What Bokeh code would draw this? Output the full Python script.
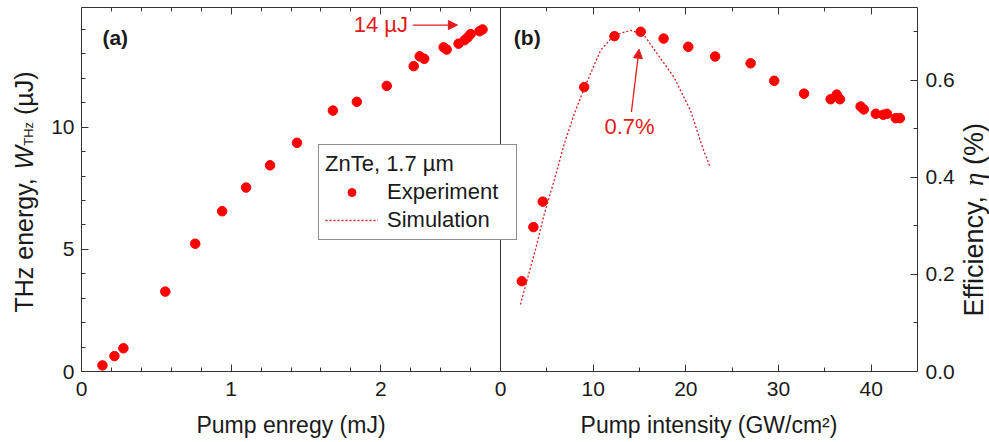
from bokeh.plotting import figure
from bokeh.models import (Range1d, LinearAxis, FixedTicker, Label, Arrow,
                          NormalHead, Legend, LegendItem, PrintfTickFormatter)
from bokeh.embed import file_html
from bokeh.resources import INLINE

# ---------------- data ----------------
# panel (a): THz energy vs pump energy
pump_energy_mJ = [0.14, 0.22, 0.28, 0.56, 0.76, 0.94, 1.10, 1.26, 1.44, 1.68, 1.84,
                  2.04, 2.22, 2.26, 2.29, 2.42, 2.44, 2.52, 2.56, 2.58, 2.60, 2.66, 2.68]
thz_energy_uJ = [0.25, 0.63, 0.95, 3.27, 5.23, 6.56, 7.53, 8.44, 9.36, 10.68, 11.04,
                 11.69, 12.50, 12.90, 12.80, 13.27, 13.18, 13.42, 13.56, 13.67, 13.81, 13.93, 14.00]

# panel (b): efficiency vs pump intensity
intensity_exp = [2.3, 3.55, 4.56, 9.03, 12.3, 15.13, 17.6, 20.26, 23.16, 26.99, 29.54,
                 32.76, 35.63, 36.28, 36.63, 38.86, 39.2, 40.5, 41.3, 41.7, 42.65, 43.1]
efficiency_exp = [0.186, 0.2975, 0.350, 0.586, 0.691, 0.700, 0.686, 0.669, 0.649, 0.635, 0.599,
                  0.5725, 0.561, 0.5705, 0.561, 0.546, 0.540, 0.531, 0.529, 0.531, 0.522, 0.522]
intensity_sim = [2.15, 2.95, 3.84, 4.73, 5.8, 6.88, 7.96, 9.03, 10.8, 12.27, 14.05,
                 15.5, 16.9, 18.7, 20.5, 21.8, 22.58]
efficiency_sim = [0.138, 0.194, 0.256, 0.325, 0.394, 0.469, 0.531, 0.583, 0.662, 0.693, 0.703,
                  0.693, 0.655, 0.607, 0.538, 0.462, 0.423]

# ticks
xa_major = [0, 1, 2]
xa_minor = [0.2, 0.4, 0.6, 0.8, 1.2, 1.4, 1.6, 1.8, 2.2, 2.4, 2.6]
ya_major = [0, 5, 10]
ya_minor = [1, 2, 3, 4, 6, 7, 8, 9, 11, 12, 13, 14]
xb_major = [0, 10, 20, 30, 40]
xb_minor = [5, 15, 25, 35]
yb_major = [0.0, 0.2, 0.4, 0.6]
yb_minor = [0.1, 0.3, 0.5, 0.7]

# axis extents of the two panels
XA_MAX, YA_MAX = 2.8, 14.9
XB_MAX, YB_MAX = 45.0, 0.75

# ---------------- layout / styles ----------------
W, H = 989, 442
PL, DIV, PR, PT, PB = 81, 500, 917, 7, 371     # panel box in pixels
WA, WB, HP = DIV - PL, PR - DIV, PB - PT
FONT = "Liberation Sans"
AX = "#333333"
TXT = "#1a1a1a"
RED = "#ff0000"
ANN = "#e41a1c"
SIM = "#d42020"

# the frame covers the whole canvas; ranges are set so that each panel
# lands on its pixel box
sxa, sxb = XA_MAX / WA, XB_MAX / WB
sya, syb = YA_MAX / HP, YB_MAX / HP
p = figure(width=W, height=H, output_backend="svg", toolbar_location=None,
           x_range=Range1d(-PL * sxa, (W - PL) * sxa),
           y_range=Range1d(-(H - PB) * sya, PB * sya),
           x_axis_type=None, y_axis_type=None,
           min_border_left=0, min_border_right=0, min_border_top=0, min_border_bottom=0)
p.extra_x_ranges = {"b": Range1d(-DIV * sxb, (W - DIV) * sxb)}
p.extra_y_ranges = {"b": Range1d(-(H - PB) * syb, PB * syb)}
p.outline_line_color = None
p.background_fill_color = "white"
p.border_fill_color = "white"


def add_axis(side, major, minor, show_labels=True, fmt=None, **kw):
    ax = LinearAxis(ticker=FixedTicker(ticks=major, minor_ticks=minor), **kw)
    ax.axis_line_color = AX
    ax.major_tick_line_color = AX
    ax.minor_tick_line_color = AX
    ax.major_tick_in, ax.major_tick_out = 7, 0
    ax.minor_tick_in, ax.minor_tick_out = 4, 0
    ax.major_label_text_font = FONT
    ax.major_label_text_font_size = "21px"
    ax.major_label_text_color = TXT
    ax.axis_label_text_font = FONT
    ax.axis_label_text_font_size = "23px"
    ax.axis_label_text_font_style = "normal"
    ax.axis_label_text_color = TXT
    if not show_labels:
        ax.formatter = PrintfTickFormatter(format="")
    elif fmt is not None:
        ax.formatter = fmt
    p.add_layout(ax, side)
    return ax


# bottom axes
add_axis("below", xa_major, xa_minor, bounds=(0, XA_MAX), fixed_location=0,
         major_label_standoff=10, axis_label="Pump enregy (mJ)", axis_label_standoff=13)
add_axis("below", xb_major, xb_minor, bounds=(0, XB_MAX), fixed_location=0,
         x_range_name="b", major_label_standoff=10,
         axis_label="Pump intensity (GW/cm²)", axis_label_standoff=13)
# top axes (ticks only)
add_axis("above", xa_major, xa_minor, show_labels=False, bounds=(0, XA_MAX),
         fixed_location=YA_MAX)
add_axis("above", xb_major, xb_minor, show_labels=False, bounds=(0, XB_MAX),
         fixed_location=YA_MAX, x_range_name="b")
# left / right axes
add_axis("left", ya_major, ya_minor, bounds=(0, YA_MAX), fixed_location=0,
         major_label_standoff=7)
add_axis("right", yb_major, yb_minor, bounds=(0, YB_MAX), fixed_location=XB_MAX,
         x_range_name="b", y_range_name="b", major_label_standoff=8,
         fmt=PrintfTickFormatter(format="%.1f"))
# divider between the two panels (axis line only)
add_axis("right", [], [], show_labels=False, bounds=(0, YA_MAX), fixed_location=XA_MAX)

# ---------------- data marks ----------------
p.scatter(pump_energy_mJ, thz_energy_uJ, size=9.5, color=RED)
r_exp = p.scatter(intensity_exp, efficiency_exp, size=9.5, color=RED,
                  x_range_name="b", y_range_name="b")
r_sim = p.line(intensity_sim, efficiency_sim, line_color=SIM, line_width=1.3,
               line_dash="2 2", x_range_name="b", y_range_name="b")

legend = Legend(items=[LegendItem(label="Experiment", renderers=[r_exp]),
                       LegendItem(label="Simulation", renderers=[r_sim])],
                location=(318, H - 240), title="ZnTe, 1.7 µm",
                title_text_font=FONT, title_text_font_size="22px",
                title_text_font_style="normal", title_text_color=TXT,
                title_standoff=2,
                label_text_font=FONT, label_text_font_size="22px", label_text_color=TXT,
                glyph_width=53, glyph_height=20, label_standoff=9, label_width=123,
                padding=6, spacing=2,
                border_line_color="#222222", border_line_width=1,
                background_fill_color="white", background_fill_alpha=1.0)
p.add_layout(legend)

# ---------------- annotations ----------------
p.add_layout(Label(x=0.14, y=13.2, text="(a)", text_font=FONT, text_font_size="21px",
                   text_font_style="bold", text_color=TXT))
p.add_layout(Label(x=1.44, y=0.664, text="(b)", text_font=FONT, text_font_size="21px",
                   text_font_style="bold", text_color=TXT,
                   x_range_name="b", y_range_name="b"))
p.add_layout(Label(x=1.819, y=13.70, text="14 µJ", text_font=FONT, text_font_size="22px",
                   text_color=ANN))
p.add_layout(Arrow(x_start=2.214, y_start=14.18, x_end=2.512, y_end=14.18,
                   line_color=ANN, line_width=1.3,
                   end=NormalHead(size=9, fill_color=ANN, line_color=ANN)))
p.add_layout(Label(x=13.92, y=0.48, text="0.7%", text_font=FONT, text_font_size="22px",
                   text_color=ANN, text_align="center",
                   x_range_name="b", y_range_name="b"))
p.add_layout(Arrow(x_start=14.13, y_start=0.5346, x_end=14.95, y_end=0.664,
                   line_color=ANN, line_width=1.3,
                   end=NormalHead(size=9, fill_color=ANN, line_color=ANN),
                   x_range_name="b", y_range_name="b"))


# ---------------- rotated axis titles (screen px, y measured from canvas bottom) ----------------
def rlabel(x, y, text, size, style="normal", font=FONT):
    p.add_layout(Label(x=x, y=y, x_units="screen", y_units="screen", text=text,
                       angle=90, angle_units="deg", text_font=font,
                       text_font_size=size, text_font_style=style, text_color=TXT,
                       text_align="left", text_baseline="alphabetic"))


SPACE = 0.278   # em width of a space in Liberation Sans

# left: "THz energy, W_THz (µJ)"  (Liberation Sans advance widths, in em)
LS, SS = 25, 13
y0 = H - 312
rlabel(23, y0, "THz energy,", f"{LS}px")
y1 = y0 + 5.724 * LS
rlabel(23, y1, "W", f"{LS}px", style="italic")
y2 = y1 + 0.944 * LS
rlabel(28, y2, "THz", f"{SS}px")
y3 = y2 + 1.833 * SS + SPACE * LS
rlabel(23, y3, "(µJ)", f"{LS}px")

# right: "Efficiency, η (%)"
RS = 27
z0 = H - 316
rlabel(973, z0, "Efficiency,", f"{RS}px")
z1 = z0 + 4.835 * RS
rlabel(973, z1, "η", f"{RS}px", style="italic", font="Liberation Serif")
z2 = z1 + 0.5 * RS + SPACE * RS
rlabel(973, z2, "(%)", f"{RS}px")

open("out.html", "w").write(file_html(p, INLINE))
